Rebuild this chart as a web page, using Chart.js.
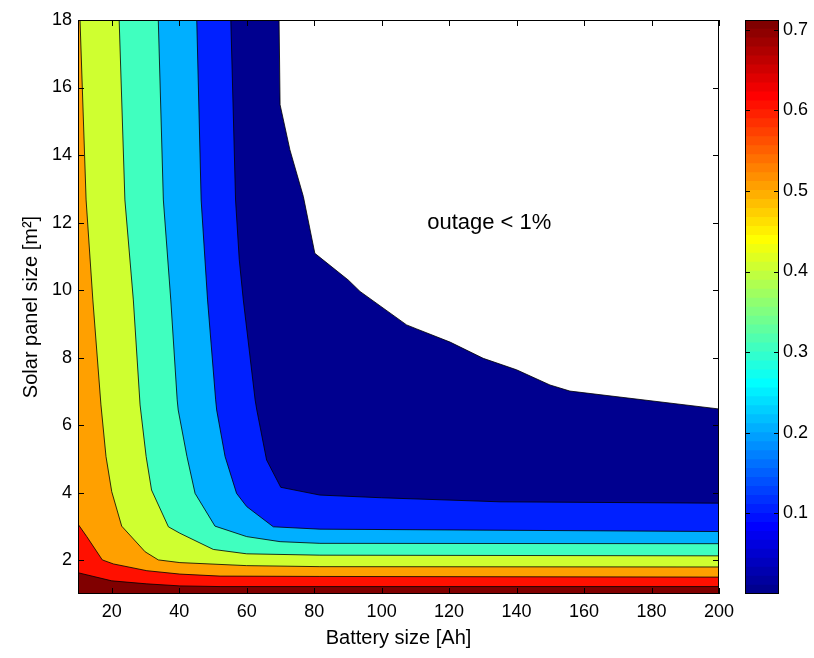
<!DOCTYPE html>
<html><head><meta charset="utf-8">
<script src="https://cdn.jsdelivr.net/npm/chart.js@4"></script>
<style>
html,body{margin:0;padding:0;background:#fff;}
#wrap{position:relative;width:814px;height:658px;overflow:hidden;}
#main{position:absolute;left:0;top:0;}
#cbar{position:absolute;left:720px;top:0;}
</style></head><body>
<div id="wrap"><canvas id="main" width="814" height="658"></canvas><canvas id="cbar" width="94" height="658"></canvas></div>
<script>
// ---------- data ----------
const xTicks = [20, 40, 60, 80, 100, 120, 140, 160, 180, 200];
const yTicks = [2, 4, 6, 8, 10, 12, 14, 16, 18];
const xRange = [10, 200];
const yRange = [1, 18];
const cbarTicks = [0.1, 0.2, 0.3, 0.4, 0.5, 0.6, 0.7];
const cbarRange = [0, 0.712];
const levels = [0.01, 0.1, 0.2, 0.3, 0.4, 0.5, 0.6, 0.7];
const bandColors = ['#00008F', '#0020FF', '#00AFFF', '#40FFBF', '#CFFF30', '#FFA000', '#FF1000', '#800000'];

// contour lines (battery size x, solar panel size y), from top-left to bottom-right
const c001X = [10, 69.6, 69.9, 72.8, 76.8, 80.2, 90.1, 93.6, 107.4, 110.4, 120.3, 130.1, 140.0, 149.9, 155.8, 200];
const c001Y = [18, 18, 15.49, 14.16, 12.77, 11.09, 10.30, 9.96, 8.97, 8.85, 8.46, 7.98, 7.64, 7.19, 7.01, 6.48];
const c01X = [10, 55.3, 56.7, 57.8, 59.0, 62.5, 63.0, 65.9, 70.1, 81.7, 100, 135.1, 200];
const c01Y = [18, 18, 12.67, 10.90, 9.71, 6.75, 6.45, 4.97, 4.16, 3.93, 3.85, 3.73, 3.69];
const c02X = [10, 45.2, 46.5, 48.4, 50.8, 51.1, 53.6, 57.0, 60.0, 67.9, 81.7, 200];
const c02Y = [18, 18, 12.67, 9.71, 6.75, 6.45, 5.07, 3.98, 3.59, 2.99, 2.92, 2.85];
const c03X = [10, 33.8, 35.3, 37.5, 39.4, 39.7, 42.3, 44.7, 50.6, 60.0, 69.9, 81.7, 200];
const c03Y = [18, 18, 12.67, 9.71, 6.75, 6.45, 5.07, 3.98, 3.01, 2.70, 2.55, 2.50, 2.49];
const c04X = [10, 22.2, 23.9, 26.4, 28.4, 30.2, 31.8, 36.8, 40.2, 50.1, 60.0, 81.7, 200];
const c04Y = [18, 18, 12.67, 9.71, 6.6, 5.07, 4.08, 2.99, 2.80, 2.32, 2.19, 2.15, 2.13];
const c05X = [10, 10.6, 12.4, 14.4, 16.8, 18.3, 20.0, 22.95, 29.9, 33.8, 40.2, 60.0, 81.7, 200];
const c05Y = [18, 18, 12.67, 9.71, 6.6, 5.07, 4.03, 3.01, 2.25, 2.01, 1.93, 1.84, 1.81, 1.80];
const c06X = [10, 12.6, 17.2, 20.5, 30.4, 40.2, 52.1, 81.7, 200];
const c06Y = [3.07, 2.70, 2.01, 1.89, 1.69, 1.59, 1.53, 1.52, 1.50];
const c07X = [10, 20.0, 30.4, 40.2, 52.1, 200];
const c07Y = [1.63, 1.39, 1.30, 1.24, 1.22, 1.22];

const annText = 'outage < 1%';
const annX = 113.5, annY = 12;
const xTitle = 'Battery size [Ah]';
const yTitle = 'Solar panel size [m\u00B2]';

// ---------- build ----------
const contourXs = [c001X, c01X, c02X, c03X, c04X, c05X, c06X, c07X];
const contourYs = [c001Y, c01Y, c02Y, c03Y, c04Y, c05Y, c06Y, c07Y];
const FONT = '"Liberation Sans", Arial, Helvetica, sans-serif';

const datasets = contourXs.map((xs, i) => ({
  label: 'level ' + levels[i],
  data: xs.map((x, k) => ({x: x, y: contourYs[i][k]})),
  backgroundColor: bandColors[i],
  borderColor: '#000',
  borderWidth: 0.8,
  pointRadius: 0,
  tension: 0,
  fill: {value: yRange[0]},
  order: contourXs.length - i
}));

const framePlugin = {
  id: 'frame',
  afterDatasetsDraw(chart) {
    const {ctx, chartArea: a} = chart;
    const xs = chart.scales.x, ys = chart.scales.y;
    ctx.save();
    ctx.strokeStyle = '#000';
    ctx.lineWidth = 1;
    ctx.beginPath();
    const L = 6;
    xTicks.forEach(v => {
      const p = Math.round(xs.getPixelForValue(v)) + 0.5;
      ctx.moveTo(p, a.bottom); ctx.lineTo(p, a.bottom - L);
      ctx.moveTo(p, a.top); ctx.lineTo(p, a.top + L);
    });
    yTicks.forEach(v => {
      const p = Math.round(ys.getPixelForValue(v)) + 0.5;
      ctx.moveTo(a.left, p); ctx.lineTo(a.left + L, p);
      ctx.moveTo(a.right, p); ctx.lineTo(a.right - L, p);
    });
    ctx.stroke();
    ctx.strokeRect(Math.round(a.left) + 0.5, Math.round(a.top) + 0.5, Math.round(a.right - a.left) - 1, Math.round(a.bottom - a.top) - 1);
    ctx.fillStyle = '#000';
    ctx.font = '22px ' + FONT;
    ctx.textAlign = 'left';
    ctx.textBaseline = 'middle';
    ctx.fillText(annText, xs.getPixelForValue(annX), ys.getPixelForValue(annY));
    ctx.restore();
  }
};

new Chart(document.getElementById('main'), {
  type: 'line',
  data: {datasets: datasets},
  options: {
    responsive: false,
    animation: false,
    devicePixelRatio: 1,
    layout: {padding: {left: 0, right: 95, top: 20, bottom: 0}},
    plugins: {legend: {display: false}, tooltip: {enabled: false}},
    scales: {
      x: {
        type: 'linear', min: xRange[0], max: xRange[1],
        afterBuildTicks: s => { s.ticks = xTicks.map(v => ({value: v})); },
        afterFit: s => { s.height = 64; },
        grid: {display: false, drawTicks: false},
        border: {display: false},
        ticks: {color: '#000', font: {family: FONT, size: 18}, padding: 7, maxRotation: 0, autoSkip: false},
        title: {display: true, text: xTitle, color: '#000', font: {family: FONT, size: 20}, padding: {top: 0, bottom: 8}}
      },
      y: {
        type: 'linear', min: yRange[0], max: yRange[1],
        afterBuildTicks: s => { s.ticks = yTicks.map(v => ({value: v})); },
        afterFit: s => { s.width = 78; },
        grid: {display: false, drawTicks: false},
        border: {display: false},
        ticks: {color: '#000', font: {family: FONT, size: 18}, padding: 6, autoSkip: false},
        title: {display: true, text: yTitle, color: '#000', font: {family: FONT, size: 20}, padding: {top: 19, bottom: 0}}
      }
    }
  },
  plugins: [framePlugin]
});

// ---------- colorbar ----------
function jetMap(m) {
  const n = Math.ceil(m / 4);
  const u = [];
  for (let i = 1; i <= n; i++) u.push(i / n);
  for (let i = 1; i < n; i++) u.push(1);
  for (let i = n; i >= 1; i--) u.push(i / n);
  const g0 = Math.ceil(n / 2) - (m % 4 === 1 ? 1 : 0);
  const J = Array.from({length: m}, () => [0, 0, 0]);
  u.forEach((val, k) => {
    const g = g0 + k + 1, r = g + n, b = g - n;
    if (g >= 1 && g <= m) J[g - 1][1] = val;
    if (r >= 1 && r <= m) J[r - 1][0] = val;
    if (b >= 1 && b <= m) J[b - 1][2] = val;
  });
  return J.map(c => 'rgb(' + c.map(v => Math.round(v * 255)).join(',') + ')');
}
const cmap = jetMap(64);
const cStep = (cbarRange[1] - cbarRange[0]) / cmap.length;
const cbarSets = cmap.map((col, i) => ({
  data: [[cbarRange[0], cbarRange[0] + (i + 1) * cStep]],
  backgroundColor: col,
  borderWidth: 0,
  grouped: false,
  barPercentage: 1,
  categoryPercentage: 1
}));

const cbarFrame = {
  id: 'cbarFrame',
  afterDatasetsDraw(chart) {
    const {ctx, chartArea: a} = chart;
    const ys = chart.scales.y;
    ctx.save();
    ctx.strokeStyle = '#000';
    ctx.lineWidth = 1;
    ctx.beginPath();
    cbarTicks.forEach(v => {
      const p = Math.round(ys.getPixelForValue(v)) + 0.5;
      ctx.moveTo(a.left, p); ctx.lineTo(a.left + 5, p);
      ctx.moveTo(a.right, p); ctx.lineTo(a.right - 5, p);
    });
    ctx.stroke();
    ctx.strokeRect(Math.round(a.left) + 0.5, Math.round(a.top) + 0.5, Math.round(a.right - a.left) - 1, Math.round(a.bottom - a.top) - 1);
    ctx.restore();
  }
};

new Chart(document.getElementById('cbar'), {
  type: 'bar',
  data: {labels: [''], datasets: cbarSets},
  options: {
    responsive: false,
    animation: false,
    devicePixelRatio: 1,
    layout: {padding: {left: 25, right: 0, top: 20, bottom: 64}},
    plugins: {legend: {display: false}, tooltip: {enabled: false}},
    scales: {
      x: {display: false},
      y: {
        type: 'linear', position: 'right', min: cbarRange[0], max: cbarRange[1],
        afterBuildTicks: s => { s.ticks = cbarTicks.map(v => ({value: v})); },
        afterFit: s => { s.width = 35; },
        grid: {display: false, drawTicks: false},
        border: {display: false},
        ticks: {color: '#000', font: {family: FONT, size: 18}, padding: 4, autoSkip: false, callback: v => v.toFixed(1)}
      }
    }
  },
  plugins: [cbarFrame]
});
</script>
</body></html>
